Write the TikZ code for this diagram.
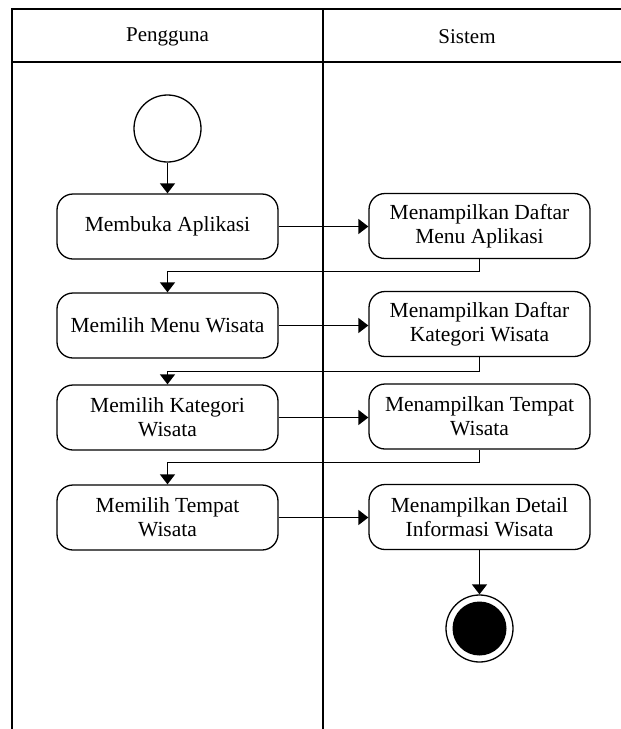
\documentclass[tikz,border=0pt]{standalone}
\usepackage{fontspec}
\setmainfont{Liberation Serif}
\usetikzlibrary{arrows.meta,positioning}

\begin{document}
\begin{tikzpicture}[x=1pt,y=-1pt,
  lane/.style={line width=1.5pt},
  act/.style={draw, line width=1.3pt, rounded corners=16pt, minimum width=221pt,
    minimum height=65pt, align=center, inner sep=2pt,
    font=\fontsize{21.5}{24}\selectfont},
  flow/.style={line width=1.3pt, -{Triangle[length=10pt,width=15pt]}},
  hdr/.style={font=\fontsize{21}{24}\selectfont}
]
\useasboundingbox (0,0) rectangle (621,729);

% swimlane frame
\draw[lane] (12,729) -- (12,9) -- (621,9);
\draw[lane] (12,62) -- (621,62);
\draw[lane] (323,9) -- (323,729);
\node[hdr] (hU) at (167.5,37) {Pengguna};
\node[hdr] (hS) at (467,37) {Sistem};

% start and end states
\node[draw, circle, line width=1.3pt, minimum size=67pt, inner sep=0pt] (start) at (167.5,128.5) {};
\node[draw, circle, line width=1.3pt, minimum size=67pt, inner sep=0pt] (final) at (479.5,628.5) {};
\node[fill=black, circle, minimum size=54pt, inner sep=0pt] (finaldot) at (final) {};

% activities
\node[act] (a1) at (167.5,226.5) {Membuka Aplikasi};
\node[act] (b1) at (479.5,226) {Menampilkan Daftar\\Menu Aplikasi};
\node[act] (a2) at (167.5,325.5) {Memilih Menu Wisata};
\node[act] (b2) at (479.5,324) {Menampilkan Daftar\\Kategori Wisata};
\node[act] (a3) at (167.5,417.5) {Memilih Kategori\\Wisata};
\node[act] (b3) at (479.5,416.5) {Menampilkan Tempat\\Wisata};
\node[act] (a4) at (167.5,517.5) {Memilih Tempat\\Wisata};
\node[act] (b4) at (479.5,517) {Menampilkan Detail\\Informasi Wisata};

% control flow
\draw[flow] (start) -- (a1);
\draw[flow] (a1.east) -- (a1.east -| b1.west);
\draw[flow] (b1.south) -- ++(0,12) -| (a2.north);
\draw[flow] (a2.east) -- (a2.east -| b2.west);
\draw[flow] (b2.south) -- ++(0,14) -| (a3.north);
\draw[flow] (a3.east) -- (a3.east -| b3.west);
\draw[flow] (b3.south) -- ++(0,13) -| (a4.north);
\draw[flow] (a4.east) -- (a4.east -| b4.west);
\draw[flow] (b4) -- (final);
\end{tikzpicture}
\end{document}
